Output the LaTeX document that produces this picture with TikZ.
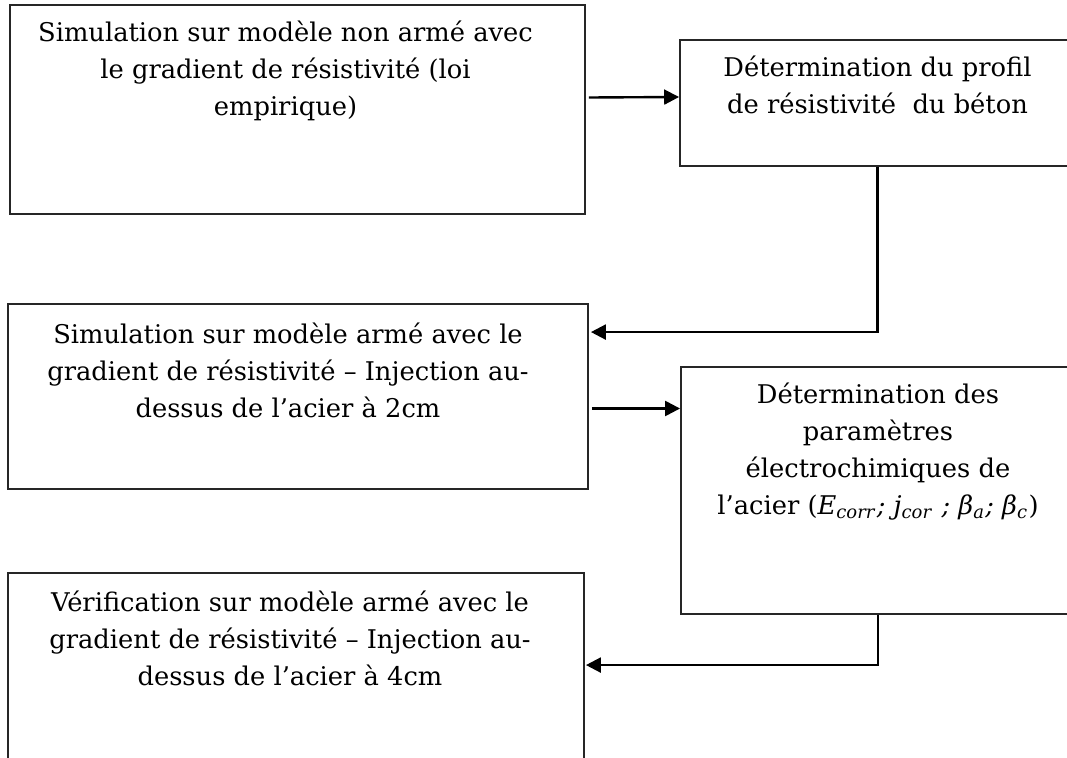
\documentclass[tikz,border=0pt]{standalone}
\usepackage{fontspec}
\setmainfont{DejaVu Serif}
\usetikzlibrary{arrows.meta, calc, fit}
\tikzset{
    boite/.style={draw=black!85, line width=0.7pt, inner sep=0pt},
    texte/.style={anchor=north, inner sep=0pt, align=center, font=\fontsize{9.7}{13.94}\selectfont},
    fleche/.style={line width=0.9pt, -{Triangle[length=5.6pt, width=5.6pt]}}
}

\begin{document}
\begin{tikzpicture}[x=0.01325cm, y=-0.01325cm]
    \useasboundingbox (0,0) rectangle (1067,758);
    \clip (0,0) rectangle (1067,758);
    % Boxes (right-hand and bottom ones run past the page)
    \node[boite, fit={(10,5) (585,214)}] (simA) {};
    \node[boite, fit={(680,40) (1075,166)}] (profil) {};
    \node[boite, fit={(8,304) (588,489)}] (armeA) {};
    \node[boite, fit={(681,367) (1075,614)}] (param) {};
    \node[boite, fit={(8,573) (584,800)}] (verif) {};
    % Texts
    \node[texte] (simAtxt) at ($(simA.north)+(-12,16)$) {Simulation sur modèle non armé avec\\le gradient de résistivité (loi\\empirique)};
    \node[texte] (profiltxt) at ($(profil.north)+(0,16)$) {Détermination du profil\\de résistivité\ \ du béton};
    \node[texte] (armeAtxt) at ($(armeA.north)+(-10,19)$) {Simulation sur modèle armé avec le\\gradient de résistivité -- Injection au-\\dessus de l’acier à 2cm};
    \node[texte] (paramtxt) at ($(param.north)+(0,16)$) {Détermination des\\paramètres\\électrochimiques de\\l’acier (\textit{E}\textsubscript{\textit{corr}}\textit{; j}\textsubscript{\textit{cor}}\textit{ ; β}\textsubscript{\textit{a}}\textit{; β}\textsubscript{\textit{c}})};
    \node[texte] (veriftxt) at ($(verif.north)+(-6,18)$) {Vérification sur modèle armé avec le\\gradient de résistivité -- Injection au-\\dessus de l’acier à 4cm};
    % Connectors
    \draw[fleche] ($(simA.east)+(3,-12)$) -- ($(profil.west)+(0,-6)$);
    \draw[fleche] (profil.south) |- ($(armeA.north east)+(2,29)$);
    \draw[fleche] ($(armeA.east)+(3,12)$) -- ($(param.west)+(0,-82)$);
    \draw[fleche] (param.south) |- ($(verif.north east)+(1,93)$);
\end{tikzpicture}
\end{document}
